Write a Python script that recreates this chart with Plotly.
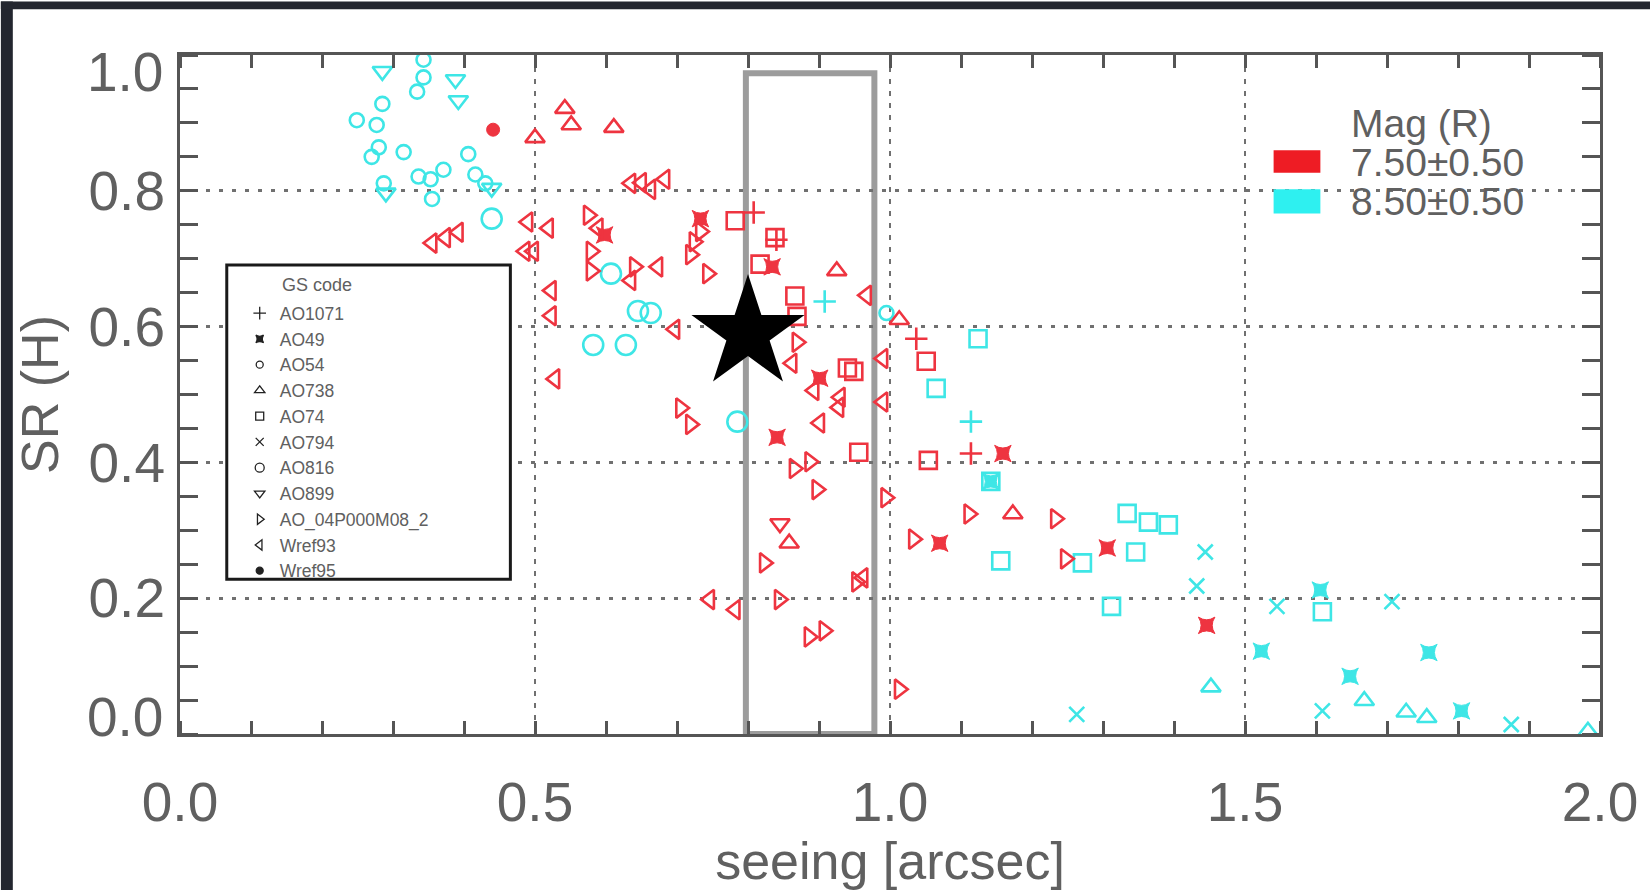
import plotly.graph_objects as go

# ---------------- data (seeing [arcsec], SR(H)) ----------------
# red = Mag(R) 7.50±0.50, cyan = Mag(R) 8.50±0.50
red_AO1071_x = [0.808, 0.840, 1.037, 1.114]
red_AO1071_y = [0.768, 0.728, 0.582, 0.413]
cyan_AO1071_x = [0.908, 1.114]
cyan_AO1071_y = [0.637, 0.460]

red_AO49_x = [0.733, 0.598, 0.834, 0.901, 0.841, 1.159, 1.306, 1.446, 1.070]
red_AO49_y = [0.759, 0.735, 0.688, 0.524, 0.437, 0.413, 0.274, 0.160, 0.281]
cyan_AO49_x = [1.523, 1.606, 1.648, 1.759, 1.805, 1.142]
cyan_AO49_y = [0.122, 0.212, 0.085, 0.120, 0.034, 0.372]

cyan_AO54_x = [0.343, 0.343, 0.334, 0.285, 0.249, 0.277, 0.280, 0.315, 0.270, 0.287,
               0.336, 0.353, 0.371, 0.355, 0.406, 0.416, 0.430, 0.995]
cyan_AO54_y = [0.993, 0.967, 0.946, 0.928, 0.904, 0.897, 0.864, 0.857, 0.850, 0.811,
               0.821, 0.817, 0.831, 0.788, 0.854, 0.824, 0.811, 0.620]

red_AO738_x = [0.500, 0.542, 0.551, 0.611, 0.925, 1.013, 1.173, 0.858]
red_AO738_y = [0.878, 0.921, 0.897, 0.893, 0.682, 0.610, 0.324, 0.281]
cyan_AO738_x = [1.452, 1.668, 1.727, 1.756, 1.983]
cyan_AO738_y = [0.069, 0.049, 0.032, 0.024, 0.004]

red_AO74_x = [0.782, 0.838, 0.817, 0.866, 0.869, 0.949, 0.956, 1.054, 1.051, 0.940]
red_AO74_y = [0.756, 0.731, 0.692, 0.645, 0.615, 0.534, 0.415, 0.403, 0.549, 0.539]
cyan_AO74_x = [1.124, 1.065, 1.142, 1.156, 1.271, 1.334, 1.364, 1.392, 1.346, 1.312, 1.609]
cyan_AO74_y = [0.582, 0.509, 0.372, 0.255, 0.252, 0.325, 0.312, 0.308, 0.268, 0.188, 0.180]

cyan_AO794_x = [1.444, 1.432, 1.545, 1.707, 1.609, 1.875, 1.263]
cyan_AO794_y = [0.268, 0.218, 0.188, 0.195, 0.034, 0.014, 0.029]

cyan_AO816_x = [0.439, 0.582, 0.628, 0.645, 0.663, 0.607, 0.785]
cyan_AO816_y = [0.759, 0.573, 0.573, 0.623, 0.620, 0.678, 0.460]

cyan_AO899_x = [0.285, 0.388, 0.392, 0.290, 0.439]
cyan_AO899_y = [0.976, 0.964, 0.933, 0.797, 0.804]
red_AO899_x = [0.845]
red_AO899_y = [0.310]

red_AO04P_x = [0.575, 0.579, 0.579, 0.640, 0.724, 0.719, 0.743, 0.705, 0.719, 0.869,
               0.865, 0.887, 0.897, 0.823, 0.953, 0.844, 0.886, 0.907, 0.994, 1.111,
               1.233, 1.033, 1.247, 1.013, 0.733]
red_AO04P_y = [0.764, 0.711, 0.682, 0.688, 0.725, 0.706, 0.678, 0.480, 0.456, 0.577,
               0.391, 0.401, 0.360, 0.252, 0.224, 0.198, 0.143, 0.152, 0.348, 0.324,
               0.317, 0.287, 0.258, 0.066, 0.740]

red_Wref93_x = [0.355, 0.374, 0.392, 0.490, 0.519, 0.486, 0.498, 0.635, 0.663, 0.683,
                0.650, 0.589, 0.635, 0.673, 0.523, 0.523, 0.528, 0.697, 0.862, 0.967,
                0.990, 0.893, 0.930, 0.928, 0.901, 0.990, 0.746, 0.782, 0.962]
red_Wref93_y = [0.723, 0.731, 0.739, 0.754, 0.745, 0.711, 0.711, 0.811, 0.802, 0.817,
                0.812, 0.745, 0.668, 0.688, 0.653, 0.616, 0.523, 0.596, 0.546, 0.646,
                0.553, 0.506, 0.496, 0.481, 0.458, 0.489, 0.198, 0.183, 0.230]

red_Wref95_x = [0.441]
red_Wref95_y = [0.890]

star_x = [0.800]
star_y = [0.590]

box_x = [0.797, 0.978]
box_y = [0.0, 0.973]

x_tickvals = [0.0, 0.5, 1.0, 1.5, 2.0]
x_ticktext = ["0.0", "0.5", "1.0", "1.5", "2.0"]
y_tickvals = [0.0, 0.2, 0.4, 0.6, 0.8, 1.0]
y_ticktext = ["0.0", "0.2", "0.4", "0.6", "0.8", "1.0"]

gs_codes = ["AO1071", "AO49", "AO54", "AO738", "AO74", "AO794", "AO816", "AO899",
            "AO_04P000M08_2", "Wref93", "Wref95"]
mag_labels = ["7.50\u00b10.50", "8.50\u00b10.50"]

# ---------------- styling ----------------
RED = "#ee3440"
CYAN = "#3ee6e6"
FONT = "Liberation Sans"
GREY_TXT = "#606060"

symbols = {
    "AO1071": ("cross-thin-open", 16),
    "AO49": ("star-square", 15),
    "AO54": ("circle-open", 14),
    "AO738": ("triangle-up-open", 17),
    "AO74": ("square-open", 17),
    "AO794": ("x-thin-open", 15),
    "AO816": ("circle-open", 20),
    "AO899": ("triangle-down-open", 17),
    "AO_04P000M08_2": ("triangle-right-open", 17),
    "Wref93": ("triangle-left-open", 17),
    "Wref95": ("circle", 13),
}
legend_sizes = {"AO1071": 9, "AO49": 7, "AO54": 7, "AO738": 9, "AO74": 8, "AO794": 8,
                "AO816": 9, "AO899": 9, "AO_04P000M08_2": 9, "Wref93": 9, "Wref95": 7}

series = [
    ("AO1071", RED, red_AO1071_x, red_AO1071_y),
    ("AO1071", CYAN, cyan_AO1071_x, cyan_AO1071_y),
    ("AO49", RED, red_AO49_x, red_AO49_y),
    ("AO49", CYAN, cyan_AO49_x, cyan_AO49_y),
    ("AO54", CYAN, cyan_AO54_x, cyan_AO54_y),
    ("AO738", RED, red_AO738_x, red_AO738_y),
    ("AO738", CYAN, cyan_AO738_x, cyan_AO738_y),
    ("AO74", RED, red_AO74_x, red_AO74_y),
    ("AO74", CYAN, cyan_AO74_x, cyan_AO74_y),
    ("AO794", CYAN, cyan_AO794_x, cyan_AO794_y),
    ("AO816", CYAN, cyan_AO816_x, cyan_AO816_y),
    ("AO899", CYAN, cyan_AO899_x, cyan_AO899_y),
    ("AO899", RED, red_AO899_x, red_AO899_y),
    ("AO_04P000M08_2", RED, red_AO04P_x, red_AO04P_y),
    ("Wref93", RED, red_Wref93_x, red_Wref93_y),
    ("Wref95", RED, red_Wref95_x, red_Wref95_y),
]

fig = go.Figure()

for code, col, xs, ys in series:
    sym, size = symbols[code]
    filled = not sym.endswith("-open")
    fig.add_trace(go.Scatter(
        x=xs, y=ys, mode="markers", showlegend=False, hoverinfo="skip",
        marker=dict(symbol=sym, size=size, color=col,
                    line=dict(color=col, width=2.6 if not filled else 1)),
    ))

# legend entries (black glyphs, as in the "GS code" box)
for code in gs_codes:
    sym, _ = symbols[code]
    fig.add_trace(go.Scatter(
        x=[None], y=[None], mode="markers", name=code,
        marker=dict(symbol=sym, size=legend_sizes[code], color="#222",
                    line=dict(color="#222", width=1.3)),
    ))

# black star
fig.add_trace(go.Scatter(x=star_x, y=star_y, mode="markers", showlegend=False,
                         hoverinfo="skip",
                         marker=dict(symbol="star", size=85, color="black",
                                     line=dict(width=0))))

# ---------------- shapes ----------------
def px_x(p):
    return (p - 180) / 1427.0

def px_y(p):
    return (753 - p) / 698.0

shapes = [
    # dark frame strips (left and top)
    dict(type="rect", xref="paper", yref="paper", x0=px_x(0), x1=px_x(12),
         y0=px_y(1100), y1=px_y(0), fillcolor="#23262f", line=dict(width=0), layer="below"),
    dict(type="rect", xref="paper", yref="paper", x0=px_x(0), x1=px_x(1700),
         y0=px_y(8), y1=px_y(0), fillcolor="#23262f", line=dict(width=0), layer="below"),
    # grey selection rectangle
    dict(type="rect", xref="x", yref="y", x0=box_x[0], x1=box_x[1], y0=box_y[0], y1=box_y[1],
         line=dict(color="#9c9c9c", width=6), fillcolor="rgba(0,0,0,0)", layer="below"),
    # GS code legend box
    dict(type="rect", xref="paper", yref="paper", x0=px_x(227), x1=px_x(512),
         y0=px_y(594), y1=px_y(271), line=dict(color="#1a1a1a", width=3),
         fillcolor="white", layer="above"),
    # Mag legend colour swatches
    dict(type="rect", xref="paper", yref="paper", x0=px_x(1279), x1=px_x(1326),
         y0=px_y(176), y1=px_y(153), fillcolor="#ee1c24", line=dict(width=0)),
    dict(type="rect", xref="paper", yref="paper", x0=px_x(1279), x1=px_x(1326),
         y0=px_y(218), y1=px_y(193), fillcolor="#2ef0f0", line=dict(width=0)),
]

# end labels of the y axis sit inside the frame, as in the original (IDL style)
y_axis_ticktext = [t if 0 < v < 1 else "" for v, t in zip(y_tickvals, y_ticktext)]
end_label_annots = []
for v, t in zip(y_tickvals, y_ticktext):
    if v in (0.0, 1.0):
        end_label_annots.append(dict(
            text=t, xref="paper", yref="y", x=px_x(165), y=v,
            xanchor="right", yanchor="middle", showarrow=False,
            yshift=17 if v == 0.0 else -17,
            font=dict(family=FONT, size=55, color=GREY_TXT)))

annotations = end_label_annots + [
    dict(text="GS code", xref="paper", yref="paper", x=px_x(280), y=px_y(291),
         xanchor="left", yanchor="middle", showarrow=False,
         font=dict(family=FONT, size=18, color=GREY_TXT)),
    dict(text="Mag (R)", xref="paper", yref="paper", x=px_x(1355), y=px_y(125),
         xanchor="left", yanchor="middle", showarrow=False,
         font=dict(family=FONT, size=39, color=GREY_TXT)),
    dict(text=mag_labels[0], xref="paper", yref="paper", x=px_x(1355), y=px_y(166),
         xanchor="left", yanchor="middle", showarrow=False,
         font=dict(family=FONT, size=39, color=GREY_TXT)),
    dict(text=mag_labels[1], xref="paper", yref="paper", x=px_x(1355), y=px_y(206),
         xanchor="left", yanchor="middle", showarrow=False,
         font=dict(family=FONT, size=39, color=GREY_TXT)),
]

axis_common = dict(
    showline=True, linecolor="#555555", linewidth=3, mirror="ticks",
    ticks="", showgrid=True, zeroline=False,
    tickfont=dict(family=FONT, size=55, color=GREY_TXT),
)

fig.update_layout(
    width=1650, height=890,
    margin=dict(l=180, r=43, t=55, b=137, pad=0),
    paper_bgcolor="white", plot_bgcolor="white",
    font=dict(family=FONT, color=GREY_TXT),
    shapes=shapes, annotations=annotations,
    showlegend=True,
    legend=dict(x=px_x(240), y=px_y(302), xanchor="left", yanchor="top",
                bgcolor="rgba(0,0,0,0)", borderwidth=0, tracegroupgap=0,
                font=dict(family=FONT, size=17.5, color=GREY_TXT), itemsizing="trace"),
    xaxis=dict(axis_common, range=[0, 2], tickvals=x_tickvals, ticktext=x_ticktext,
               gridcolor="#707070", gridwidth=2, griddash="5px,7px",
               ticklabelstandoff=18,
               minor=dict(dtick=0.1, tick0=0, ticks="inside", ticklen=13, tickwidth=2.5,
                          tickcolor="#555555", showgrid=False),
               title=dict(text="seeing [arcsec]", standoff=9,
                          font=dict(family=FONT, size=52, color=GREY_TXT))),
    yaxis=dict(axis_common, range=[0, 1], tickvals=y_tickvals, ticktext=y_axis_ticktext,
               gridcolor="#707070", gridwidth=3, griddash="4px,9px",
               ticklabelstandoff=1,
               minor=dict(dtick=0.05, tick0=0, ticks="inside", ticklen=18, tickwidth=2.5,
                          tickcolor="#555555", showgrid=False),
               title=dict(text="SR (H)", standoff=14,
                          font=dict(family=FONT, size=52, color=GREY_TXT))),
)

fig.write_html("out.html")
